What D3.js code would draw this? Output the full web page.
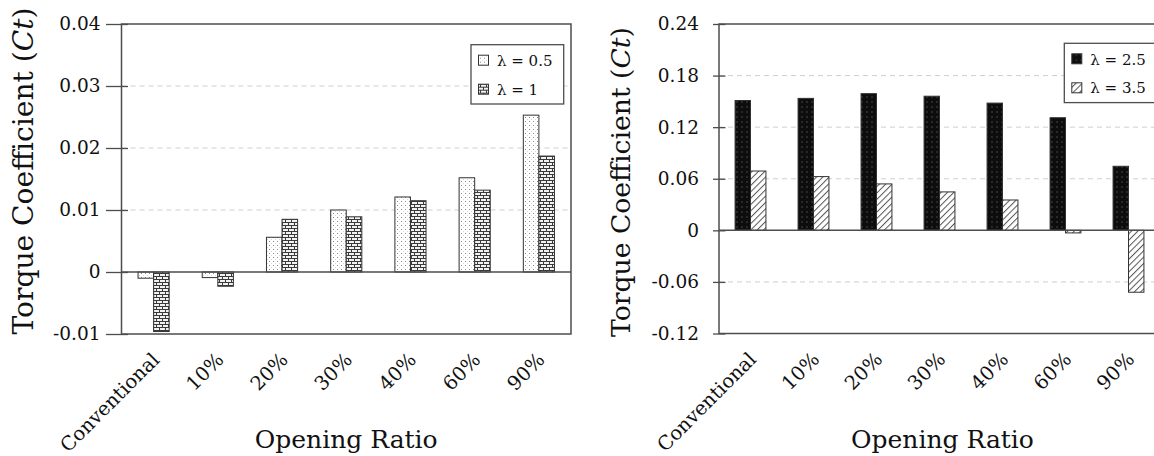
<!DOCTYPE html>
<html>
<head>
<meta charset="utf-8">
<script src="https://cdn.jsdelivr.net/npm/d3@7"></script>
<style>
  html, body { margin: 0; padding: 0; background: #fff; }
  svg { display: block; font-family: "DejaVu Serif", serif; }
</style>
</head>
<body>
<svg id="chart" width="1154" height="456"></svg>
<script>
// Opening ratios tested
const categories = ["Conventional", "10%", "20%", "30%", "40%", "60%", "90%"];

// Torque coefficient, low tip-speed ratios
const ctLambda05 = [-0.0010, -0.0009, 0.0056, 0.0100, 0.0121, 0.0152, 0.0253];
const ctLambda1  = [-0.0096, -0.0023, 0.0085, 0.0089, 0.0115, 0.0132, 0.0187];

// Torque coefficient, high tip-speed ratios
const ctLambda25 = [0.151, 0.1535, 0.159, 0.156, 0.148, 0.131, 0.0745];
const ctLambda35 = [0.069, 0.0625, 0.054, 0.0447, 0.0353, -0.003, -0.072];

const leftSeriesNames  = ["λ = 0.5", "λ = 1"];
const rightSeriesNames = ["λ = 2.5", "λ = 3.5"];

const leftTicks       = [-0.01, 0, 0.01, 0.02, 0.03, 0.04];
const leftTickLabels  = ["-0.01", "0", "0.01", "0.02", "0.03", "0.04"];
const rightTicks      = [-0.12, -0.06, 0, 0.06, 0.12, 0.18, 0.24];
const rightTickLabels = ["-0.12", "-0.06", "0", "0.06", "0.12", "0.18", "0.24"];

const svg = d3.select("#chart");
svg.append("rect").attr("width", 1154).attr("height", 456).attr("fill", "#fff");

// ---- fill patterns ----
const defs = svg.append("defs");

// light stipple
const pDots = defs.append("pattern").attr("id", "pDots")
  .attr("patternUnits", "userSpaceOnUse").attr("width", 4).attr("height", 4);
pDots.append("rect").attr("width", 4).attr("height", 4).attr("fill", "#fff");
pDots.append("rect").attr("x", 1).attr("y", 1).attr("width", 1).attr("height", 1).attr("fill", "#8a8a8a");
pDots.append("rect").attr("x", 3).attr("y", 3).attr("width", 0.8).attr("height", 0.8).attr("fill", "#c4c4c4");

// brick
const pBrick = defs.append("pattern").attr("id", "pBrick")
  .attr("patternUnits", "userSpaceOnUse").attr("width", 6).attr("height", 6);
pBrick.append("rect").attr("width", 6).attr("height", 6).attr("fill", "#3a3a3a");
[[1, 1], [-2, 4], [4, 4]].forEach(([x, y]) =>
  pBrick.append("rect").attr("x", x).attr("y", y).attr("width", 5).attr("height", 2).attr("fill", "#f2f2f2"));

// dark stipple
const pDark = defs.append("pattern").attr("id", "pDark")
  .attr("patternUnits", "userSpaceOnUse").attr("width", 5).attr("height", 5);
pDark.append("rect").attr("width", 5).attr("height", 5).attr("fill", "#0d0d0d");
pDark.append("rect").attr("x", 1.5).attr("y", 1.5).attr("width", 1).attr("height", 1).attr("fill", "#7a7a7a");

// diagonal hatch
const pHatch = defs.append("pattern").attr("id", "pHatch")
  .attr("patternUnits", "userSpaceOnUse").attr("width", 4.5).attr("height", 4.5)
  .attr("patternTransform", "rotate(45)");
pHatch.append("rect").attr("width", 4.5).attr("height", 4.5).attr("fill", "#fff");
pHatch.append("line").attr("x1", 0.5).attr("y1", 0).attr("x2", 0.5).attr("y2", 4.5)
  .attr("stroke", "#555").attr("stroke-width", 1);

const FRAME = "#4d4d4d";
const TEXT = "#111";

function drawPanel(cfg) {
  const g = svg.append("g");

  const x0 = d3.scaleBand().domain(categories).range([cfg.left, cfg.right]).padding(0);
  const y = d3.scaleLinear().domain(cfg.domain).range([cfg.bottom, cfg.top]);
  const groupW = x0.bandwidth() * cfg.groupFrac;
  const x1 = d3.scaleBand().domain(cfg.series.map(s => s.name)).range([0, groupW]).padding(0);

  // dashed gridlines
  g.append("g").selectAll("line")
    .data(cfg.ticks.filter(t => t !== 0 && t !== cfg.domain[0] && t !== cfg.domain[1]))
    .join("line")
    .attr("x1", cfg.left).attr("x2", cfg.right)
    .attr("y1", d => y(d)).attr("y2", d => y(d))
    .attr("stroke", "#cfcfcf").attr("stroke-width", 1).attr("stroke-dasharray", "5,4");

  // bars
  cfg.series.forEach(s => {
    g.append("g").selectAll("rect")
      .data(s.values.map((v, i) => ({ cat: categories[i], v })))
      .join("rect")
      .attr("x", d => x0(d.cat) + (x0.bandwidth() - groupW) / 2 + x1(s.name))
      .attr("width", x1.bandwidth())
      .attr("y", d => y(Math.max(0, d.v)))
      .attr("height", d => Math.abs(y(d.v) - y(0)))
      .attr("fill", `url(#${s.pattern})`)
      .attr("stroke", "#333").attr("stroke-width", 1);
  });

  // zero line
  g.append("line")
    .attr("x1", cfg.left).attr("x2", cfg.right)
    .attr("y1", y(0)).attr("y2", y(0))
    .attr("stroke", FRAME).attr("stroke-width", 1.5);

  // frame
  g.append("rect")
    .attr("x", cfg.left).attr("y", cfg.top)
    .attr("width", cfg.right - cfg.left).attr("height", cfg.bottom - cfg.top)
    .attr("fill", "none").attr("stroke", FRAME).attr("stroke-width", 1.5);

  // y axis
  const yAxis = g.append("g")
    .attr("transform", `translate(${cfg.left},0)`)
    .call(d3.axisLeft(y).tickValues(cfg.ticks)
      .tickFormat((d, i) => cfg.tickLabels[i])
      .tickSizeInner(cfg.tickOut).tickSizeOuter(0).tickPadding(cfg.tickPad));
  yAxis.select(".domain").remove();
  yAxis.selectAll(".tick line").attr("x1", 6.5).attr("stroke", FRAME).attr("stroke-width", 1.3);
  yAxis.selectAll(".tick text")
    .attr("fill", TEXT).style("font-size", "18.5px").style("font-family", "DejaVu Serif, serif");

  // x axis (rotated category labels)
  const xAxis = g.append("g")
    .attr("transform", `translate(0,${cfg.bottom})`)
    .call(d3.axisBottom(x0).tickSize(0));
  xAxis.select(".domain").remove();
  xAxis.selectAll(".tick text")
    .attr("x", 0).attr("y", 0).attr("dy", 0)
    .attr("text-anchor", "end")
    .attr("transform", "translate(7,27) rotate(-45)")
    .attr("fill", TEXT).style("font-size", "19.5px").style("font-family", "DejaVu Serif, serif");

  // axis titles
  g.append("text")
    .attr("x", (cfg.left + cfg.right) / 2 + cfg.xTitleShift).attr("y", 448)
    .attr("text-anchor", "middle").attr("fill", TEXT)
    .style("font-size", "25px")
    .text("Opening Ratio");

  const yt = g.append("text")
    .attr("transform", `translate(${cfg.yTitleX},${cfg.yTitleY}) rotate(-90)`)
    .attr("text-anchor", "middle").attr("fill", TEXT)
    .attr("textLength", cfg.yTitleLen).attr("lengthAdjust", "spacingAndGlyphs")
    .style("font-size", cfg.yTitleSize + "px");
  yt.append("tspan").text("Torque Coefficient (");
  yt.append("tspan").style("font-style", "italic").text("Ct");
  yt.append("tspan").text(")");

  // legend
  const lg = g.append("g").attr("transform", `translate(${cfg.legendX},${cfg.legendY})`);
  lg.append("rect").attr("width", 92.7).attr("height", 59.3)
    .attr("fill", "#fff").attr("stroke", FRAME).attr("stroke-width", 1.3);
  cfg.series.forEach((s, i) => {
    lg.append("rect")
      .attr("x", 7.5).attr("y", 10.5 + i * 29)
      .attr("width", 10).attr("height", 10)
      .attr("fill", `url(#${s.pattern})`).attr("stroke", "#333").attr("stroke-width", 1);
    lg.append("text")
      .attr("x", 26).attr("y", 21.5 + i * 28.5)
      .attr("fill", TEXT).style("font-size", "15px")
      .text(s.name);
  });
}

drawPanel({
  left: 121.5, right: 571, top: 24, bottom: 334,
  domain: [-0.01, 0.04], ticks: leftTicks, tickLabels: leftTickLabels,
  tickOut: 15.5, tickPad: 5.5, groupFrac: 0.485,
  series: [
    { name: leftSeriesNames[0], values: ctLambda05, pattern: "pDots" },
    { name: leftSeriesNames[1], values: ctLambda1,  pattern: "pBrick" }
  ],
  xTitleShift: 0, yTitleX: 33, yTitleY: 171, yTitleSize: 28, yTitleLen: 327,
  legendX: 471, legendY: 44.7
});

drawPanel({
  left: 719, right: 1160, top: 24, bottom: 333.5,
  domain: [-0.12, 0.24], ticks: rightTicks, tickLabels: rightTickLabels,
  tickOut: 6, tickPad: 14, groupFrac: 0.49,
  series: [
    { name: rightSeriesNames[0], values: ctLambda25, pattern: "pDark" },
    { name: rightSeriesNames[1], values: ctLambda35, pattern: "pHatch" }
  ],
  xTitleShift: 3, yTitleX: 630, yTitleY: 182, yTitleSize: 26.5, yTitleLen: 310,
  legendX: 1064.3, legendY: 43.3
});
</script>
</body>
</html>
